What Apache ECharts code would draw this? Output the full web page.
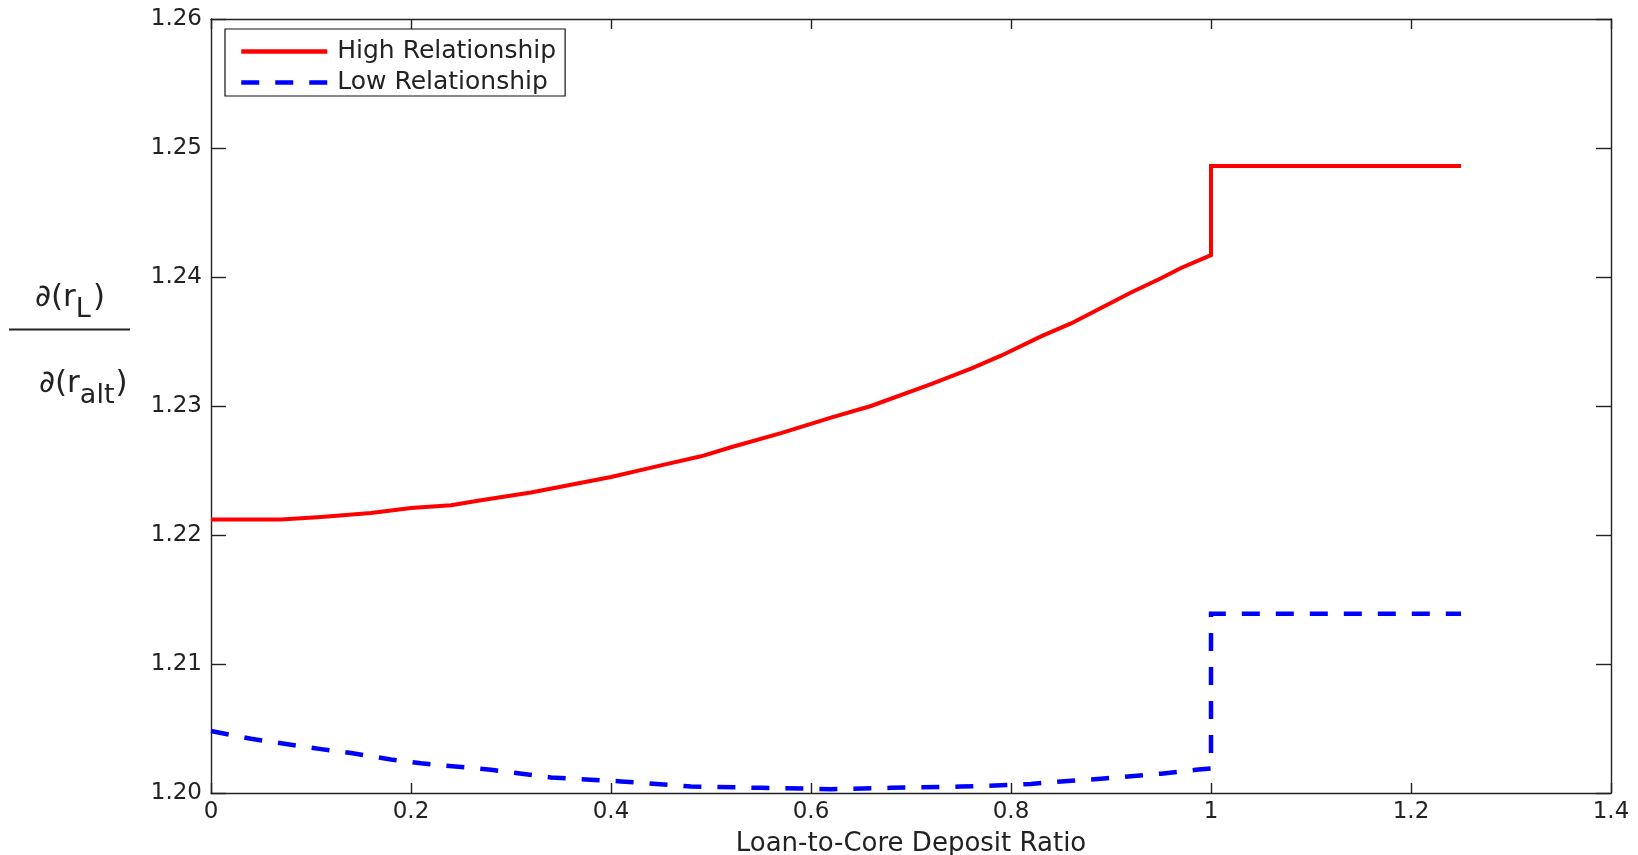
<!DOCTYPE html>
<html>
<head>
<meta charset="utf-8">
<script src="https://cdn.jsdelivr.net/npm/echarts@6/dist/echarts.min.js"></script>
<style>
  html, body { margin: 0; padding: 0; background: #fff; }
  #chart { width: 1638px; height: 855px; }
</style>
</head>
<body>
<div id="chart"></div>
<script>
// Pass-through of the loan-rate sensitivity d(r_L)/d(r_alt) against the
// loan-to-core deposit ratio, for high- and low-relationship borrowers.
const highX = [0, 0.07, 0.11, 0.16, 0.20, 0.24, 0.27, 0.32, 0.36, 0.40, 0.45, 0.49, 0.52, 0.57, 0.62, 0.66, 0.72, 0.76, 0.79, 0.83, 0.86, 0.89, 0.92, 0.95, 0.97, 1.00, 1.00, 1.25];
const highY = [1.2212, 1.2212, 1.2214, 1.2217, 1.2221, 1.2223, 1.2227, 1.2233, 1.2239, 1.2245, 1.2254, 1.2261, 1.2268, 1.2279, 1.2291, 1.2300, 1.2317, 1.2329, 1.2339, 1.2354, 1.2364, 1.2376, 1.2388, 1.2399, 1.2407, 1.2417, 1.2486, 1.2486];

const lowX = [0, 0.04, 0.11, 0.14, 0.18, 0.21, 0.28, 0.34, 0.41, 0.48, 0.55, 0.62, 0.68, 0.75, 0.79, 0.82, 0.85, 0.89, 0.92, 0.95, 0.985, 1.00, 1.00, 1.25];
const lowY = [1.2048, 1.2042, 1.2034, 1.2031, 1.2026, 1.2023, 1.2018, 1.2012, 1.2009, 1.2005, 1.2004, 1.2003, 1.2004, 1.2005, 1.2006, 1.2007, 1.2009, 1.2011, 1.2013, 1.2015, 1.2018, 1.2019, 1.2139, 1.2139];

const seriesNames = ['High Relationship', 'Low Relationship'];
const xAxisTitle = 'Loan-to-Core Deposit Ratio';
const xTicks = { min: 0, max: 1.4, step: 0.2 };
const yTicks = { min: 1.20, max: 1.26, step: 0.01 };

const FONT = 'DejaVu Sans';
const INK = '#222';

const pairs = (xs, ys) => xs.map((x, i) => [x, ys[i]]);

// Text measurement for placing the stacked derivative label by hand.
const measureCtx = document.createElement('canvas').getContext('2d');
function textWidth(text, size) {
  measureCtx.font = size + 'px "' + FONT + '"';
  return measureCtx.measureText(text).width;
}
// Place a run of text pieces on a common line; each piece may be dropped as a subscript.
function textRun(x, baseline, pieces) {
  const out = [];
  let cx = x;
  pieces.forEach(p => {
    const b = baseline + (p.drop || 0);
    out.push({
      type: 'text',
      style: {
        text: p.t, x: cx, y: b - 0.3 * p.size,
        fontSize: p.size, fontFamily: FONT, fill: INK,
        align: 'left', verticalAlign: 'middle'
      }
    });
    cx += textWidth(p.t, p.size) + (p.gap || 0);
  });
  return out;
}

const yLabelGraphics = [].concat(
  textRun(35, 307, [
    { t: '\u2202(r', size: 31 },
    { t: 'L', size: 27, drop: 11, gap: 2 },
    { t: ')', size: 31 }
  ]),
  [{
    type: 'line',
    shape: { x1: 9, y1: 329.5, x2: 130, y2: 329.5 },
    style: { stroke: INK, lineWidth: 2 }
  }],
  textRun(39, 393, [
    { t: '\u2202(r', size: 31 },
    { t: 'alt', size: 27, drop: 11, gap: 1 },
    { t: ')', size: 31 }
  ])
);

const axisLineStyle = { color: INK, width: 1.4 };

const chart = echarts.init(document.getElementById('chart'), null, { renderer: 'canvas' });
chart.setOption({
  animation: false,
  backgroundColor: '#fff',
  grid: { left: 211, top: 19, width: 1400, height: 774, containLabel: false, outerBoundsMode: 'none' },
  legend: {
    orient: 'vertical',
    left: 225,
    top: 29,
    padding: [10, 9, 1, 14],
    itemWidth: 86,
    itemHeight: 14,
    itemGap: 6,
    borderColor: '#111',
    borderWidth: 1.2,
    backgroundColor: '#fff',
    itemStyle: { color: 'transparent', borderWidth: 0, opacity: 0 },
    lineStyle: { width: 4.5 },
    textStyle: { fontFamily: FONT, fontSize: 25, color: INK, lineHeight: 24, padding: [0, 0, 0, 5] },
    data: seriesNames
  },
  xAxis: [{
    type: 'value',
    position: 'bottom',
    min: xTicks.min, max: xTicks.max, interval: xTicks.step,
    name: xAxisTitle,
    nameLocation: 'middle',
    nameGap: 38,
    nameTextStyle: { fontFamily: FONT, fontSize: 26, color: INK },
    axisLine: { onZero: false, lineStyle: axisLineStyle },
    axisTick: { inside: true, length: 10, lineStyle: axisLineStyle },
    axisLabel: { fontFamily: FONT, fontSize: 23, color: INK, margin: 8 },
    splitLine: { show: false }
  }, {
    type: 'value',
    position: 'top',
    min: xTicks.min, max: xTicks.max, interval: xTicks.step,
    axisLine: { onZero: false, lineStyle: axisLineStyle },
    axisTick: { inside: true, length: 10, lineStyle: axisLineStyle },
    axisLabel: { show: false },
    splitLine: { show: false }
  }],
  yAxis: [{
    type: 'value',
    position: 'left',
    min: yTicks.min, max: yTicks.max, interval: yTicks.step,
    axisLine: { show: true, onZero: false, lineStyle: axisLineStyle },
    axisTick: { show: true, inside: true, length: 15, lineStyle: axisLineStyle },
    axisLabel: { fontFamily: FONT, fontSize: 23, color: INK, margin: 9, formatter: v => v.toFixed(2) },
    splitLine: { show: false }
  }, {
    type: 'value',
    position: 'right',
    min: yTicks.min, max: yTicks.max, interval: yTicks.step,
    axisLine: { show: true, onZero: false, lineStyle: axisLineStyle },
    axisTick: { show: true, inside: true, length: 15, lineStyle: axisLineStyle },
    axisLabel: { show: false },
    splitLine: { show: false }
  }],
  graphic: yLabelGraphics,
  series: [{
    name: seriesNames[0],
    type: 'line',
    data: pairs(highX, highY),
    symbol: 'none',
    showSymbol: false,
    color: '#ff0000',
    lineStyle: { color: '#ff0000', width: 4, type: 'solid', join: 'miter' },
    z: 3
  }, {
    name: seriesNames[1],
    type: 'line',
    data: pairs(lowX, lowY),
    symbol: 'none',
    showSymbol: false,
    color: '#0000ff',
    lineStyle: { color: '#0000ff', width: 4.5, type: [18, 16], join: 'miter' },
    z: 3
  }]
});
</script>
</body>
</html>
